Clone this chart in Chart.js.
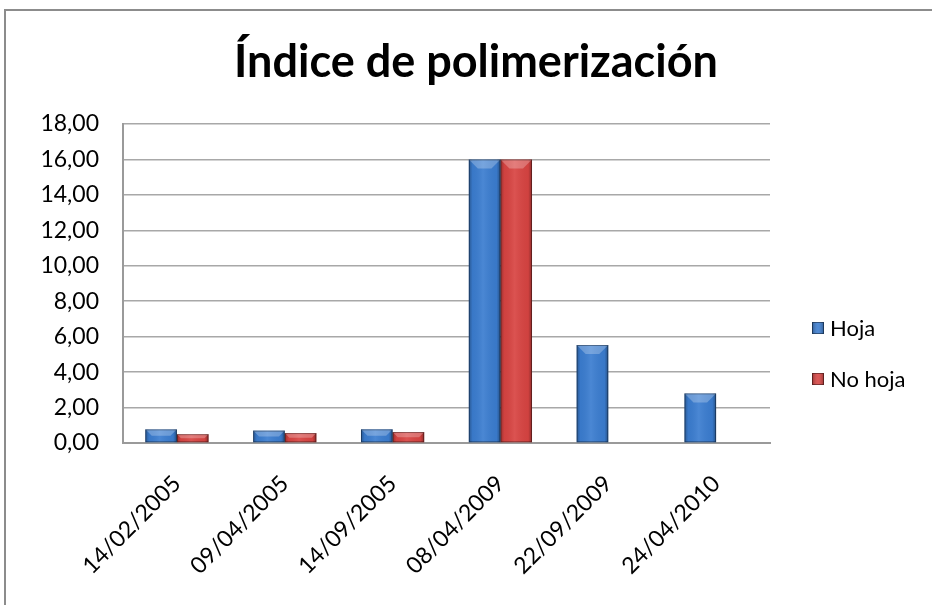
<!DOCTYPE html>
<html>
<head>
<meta charset="utf-8">
<script src="https://cdn.jsdelivr.net/npm/chart.js@4/dist/chart.umd.min.js"></script>
<style>
  html, body { margin: 0; padding: 0; background: #fff; }
  #wrap { width: 932px; height: 605px; position: relative; }
</style>
</head>
<body>
<div id="wrap"><canvas id="c" width="932" height="605"></canvas></div>
<script>
const categories = ['14/02/2005', '09/04/2005', '14/09/2005', '08/04/2009', '22/09/2009', '24/04/2010'];
const hoja   = [0.77, 0.70, 0.77, 16.00, 5.53, 2.80];
const noHoja = [0.50, 0.56, 0.62, 16.00, null, null];
const yTicks = [0, 2, 4, 6, 8, 10, 12, 14, 16, 18];
const chartTitle = 'Índice de polimerización';

const FONT = "Lato, 'Open Sans', 'DejaVu Sans', sans-serif";

// Outer frame of the chart object
const framePlugin = {
  id: 'frame',
  beforeDraw(chart) {
    const c = chart.ctx;
    c.save();
    c.fillStyle = '#fff';
    c.fillRect(0, 0, chart.width, chart.height);
    c.strokeStyle = '#8c8c8c';
    c.lineWidth = 2;
    c.strokeRect(5, 10, chart.width + 20, chart.height + 20);
    c.restore();
  }
};

// Title centred on the whole frame
const frameTitle = {
  id: 'frameTitle',
  afterDraw(chart) {
    const c = chart.ctx;
    c.save();
    c.font = `bold 45px ${FONT}`;
    c.fillStyle = '#000';
    c.textAlign = 'center';
    c.textBaseline = 'alphabetic';
    c.fillText(chartTitle, 476, 77);
    c.restore();
  }
};

// Bevel shading on top of each bar: dark sides, bright top facet
const bevelPlugin = {
  id: 'bevel',
  afterDatasetsDraw(chart) {
    const c = chart.ctx;
    chart.data.datasets.forEach((ds, di) => {
      const meta = chart.getDatasetMeta(di);
      meta.data.forEach((bar, i) => {
        if (ds.data[i] == null) return;
        const { x, y, base, width } = bar.getProps(['x', 'y', 'base', 'width'], true);
        const l = x - width / 2, r = x + width / 2, h = base - y;
        if (h <= 0) return;
        c.save();
        const g = c.createLinearGradient(l, 0, r, 0);
        g.addColorStop(0, 'rgba(0,0,0,0.30)');
        g.addColorStop(0.12, 'rgba(0,0,0,0.04)');
        g.addColorStop(0.45, 'rgba(255,255,255,0.08)');
        g.addColorStop(0.88, 'rgba(0,0,0,0.04)');
        g.addColorStop(1, 'rgba(0,0,0,0.35)');
        c.fillStyle = g;
        c.fillRect(l, y, width, h);
        const bev = Math.min(9, h / 2);
        // top facet
        c.fillStyle = 'rgba(255,255,255,0.25)';
        c.beginPath();
        c.moveTo(l, y); c.lineTo(r, y); c.lineTo(r - bev, y + bev); c.lineTo(l + bev, y + bev);
        c.closePath(); c.fill();
        c.strokeStyle = 'rgba(0,0,0,0.35)';
        c.lineWidth = 1;
        c.strokeRect(l + 0.5, y + 0.5, width - 1, h - 1);
        c.restore();
      });
    });
  }
};

// Legend drawn at the right of the plot
const sideLegend = {
  id: 'sideLegend',
  afterDraw(chart) {
    const c = chart.ctx;
    const x0 = 812, y0 = 328, step = 51, box = 12;
    c.save();
    c.font = `22px ${FONT}`;
    c.textBaseline = 'middle';
    c.textAlign = 'left';
    chart.data.datasets.forEach((d, i) => {
      const y = y0 + i * step;
      c.fillStyle = d.backgroundColor;
      c.fillRect(x0, y - box / 2, box, box);
      const g = c.createLinearGradient(x0, 0, x0 + box, 0);
      g.addColorStop(0, 'rgba(0,0,0,0.3)');
      g.addColorStop(0.5, 'rgba(255,255,255,0.1)');
      g.addColorStop(1, 'rgba(0,0,0,0.3)');
      c.fillStyle = g;
      c.fillRect(x0, y - box / 2, box, box);
      c.strokeStyle = 'rgba(0,0,0,0.4)';
      c.lineWidth = 1;
      c.strokeRect(x0 + 0.5, y - box / 2 + 0.5, box - 1, box - 1);
      c.fillStyle = '#000';
      c.fillText(d.label, x0 + box + 6, y + 1);
    });
    c.restore();
  }
};

new Chart(document.getElementById('c'), {
  type: 'bar',
  data: {
    labels: categories,
    datasets: [
      { label: 'Hoja', data: hoja, backgroundColor: '#3b7dd0', borderWidth: 0 },
      { label: 'No hoja', data: noHoja, backgroundColor: '#d84442', borderWidth: 0 }
    ]
  },
  options: {
    responsive: false,
    animation: false,
    devicePixelRatio: 1,
    layout: { padding: { left: 20, right: 162, top: 124, bottom: 6 } },
    datasets: { bar: { categoryPercentage: 0.586, barPercentage: 1.0 } },
    plugins: {
      title: { display: false },
      legend: { display: false },
      tooltip: { enabled: false }
    },
    scales: {
      x: {
        afterFit(s) { s.height = 156; },
        grid: { display: false, drawTicks: false },
        border: { color: '#9a9a9a', width: 2 },
        ticks: {
          color: '#000', font: { family: FONT, size: 23 },
          minRotation: 45, maxRotation: 45, padding: 27
        }
      },
      y: {
        min: 0, max: 18,
        afterBuildTicks(s) { s.ticks = yTicks.map(v => ({ value: v })); },
        afterFit(s) { s.width = 103; },
        grid: { color: '#a8a8a8', lineWidth: 1.5, drawTicks: false },
        border: { color: '#9a9a9a', width: 2 },
        ticks: {
          color: '#000', font: { family: FONT, size: 23 }, padding: 24,
          callback: v => v.toFixed(2).replace('.', ',')
        }
      }
    }
  },
  plugins: [framePlugin, bevelPlugin, sideLegend, frameTitle]
});
</script>
</body>
</html>
